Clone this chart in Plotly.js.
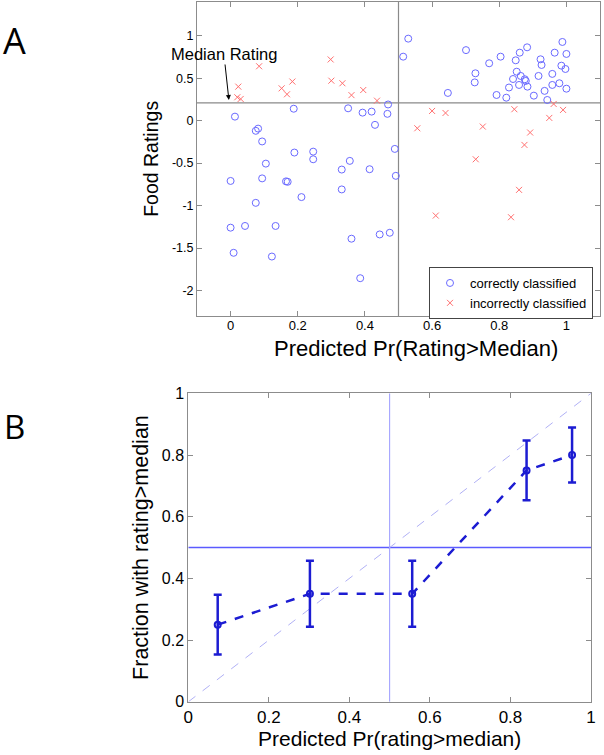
<!DOCTYPE html>
<html>
<head>
<meta charset="utf-8">
<script src="https://cdn.plot.ly/plotly-3.0.1.min.js"></script>
<style>html,body{margin:0;padding:0;background:#fff;}#chart{width:604px;height:755px;}</style>
</head>
<body>
<div id="chart"></div>
<script>
// ---------- Panel A data ----------
const correctX = [
  0.013, 0.188, 0.35, 0.393, 0.42, 0.469, 0.467, 0.43, 0.082, 0.075,
  0.094, 0.19, 0.246, 0.246, 0.489, 0.105, 0.355, 0.331, 0.414, 0.492,
  0.0, 0.094, 0.165, 0.17, 0.331, 0.211, 0.075, 0.0, 0.043, 0.134,
  0.36, 0.444, 0.474, 0.009, 0.123, 0.386,
  0.529, 0.514, 0.701, 0.647, 0.729, 0.727, 0.77, 0.804, 0.792, 0.821,
  0.829, 0.841, 0.852, 0.849, 0.861, 0.883, 0.859, 0.864, 0.876, 0.879,
  0.884, 0.903, 0.917, 0.923, 0.926, 0.935, 0.943, 0.958, 0.958, 0.965,
  0.979, 0.985, 0.988, 0.997, 1.0, 1.0
];
const correctY = [
  0.047, 0.14, 0.145, 0.094, 0.106, 0.19, 0.08, -0.05, -0.094, -0.12,
  -0.245, -0.376, -0.365, -0.455, -0.333, -0.506, -0.474, -0.576, -0.572, -0.65,
  -0.71, -0.68, -0.715, -0.72, -0.81, -0.9, -0.968, -1.26, -1.24, -1.24,
  -1.39, -1.34, -1.32, -1.556, -1.6, -1.855,
  0.965, 0.753, 0.83, 0.326, 0.557, 0.45, 0.675, 0.753, 0.302, 0.27,
  0.39, 0.49, 0.576, 0.71, 0.8, 0.863, 0.42, 0.526, 0.487, 0.467,
  0.4, 0.294, 0.526, 0.722, 0.655, 0.35, 0.243, 0.55, 0.42, 0.8,
  0.44, 0.647, 0.926, 0.608, 0.785, 0.376
];
const wrongX = [
  0.023, 0.02, 0.03, 0.085, 0.152, 0.168, 0.184, 0.298, 0.30, 0.333, 0.36, 0.395, 0.436,
  0.6, 0.64, 0.556, 0.751, 0.845, 0.892, 0.875, 0.949, 0.962, 0.99, 0.73, 0.859, 0.611, 0.835
];
const wrongY = [
  0.40, 0.275, 0.255, 0.64, 0.38, 0.31, 0.46, 0.72, 0.47, 0.44, 0.30, 0.36, 0.235,
  0.114, 0.09, -0.09, -0.07, 0.134, -0.14, -0.286, 0.032, 0.196, 0.126, -0.455, -0.815, -1.118, -1.137
];
const medianRating = 0.21;
const probThreshold = 0.5;
const tickAX = [0, 0.2, 0.4, 0.6, 0.8, 1];
const tickAXText = ['0', '0.2', '0.4', '0.6', '0.8', '1'];
const tickAY = [-2, -1.5, -1, -0.5, 0, 0.5, 1];
const tickAYText = ['-2', '-1.5', '-1', '-0.5', '0', '0.5', '1'];

// ---------- Panel B data ----------
const binX = [0.073, 0.302, 0.556, 0.840, 0.953];
const binFrac = [0.25, 0.35, 0.35, 0.75, 0.80];
const binErr = [0.097, 0.107, 0.107, 0.097, 0.089];
const tickB = [0, 0.2, 0.4, 0.6, 0.8, 1];
const tickBText = ['0', '0.2', '0.4', '0.6', '0.8', '1'];

const W = 604, H = 755;
const font = 'Liberation Sans, Arial, Helvetica, sans-serif';
const frame = '#8c8c8c';

const traces = [
  {x: correctX, y: correctY, xaxis: 'x', yaxis: 'y', type: 'scatter', mode: 'markers',
   name: 'correctly classified',
   marker: {symbol: 'circle-open', size: 7, color: '#6a6aff', line: {width: 1, color: '#6a6aff'}}},
  {x: wrongX, y: wrongY, xaxis: 'x', yaxis: 'y', type: 'scatter', mode: 'markers',
   name: 'incorrectly classified',
   marker: {symbol: 'x-thin', size: 6, color: '#ff7070', line: {width: 1, color: '#ff7070'}}},
  {x: binX, y: binFrac, xaxis: 'x2', yaxis: 'y2', type: 'scatter', mode: 'lines+markers',
   showlegend: false,
   line: {color: '#1c1cd2', width: 2.5, dash: 'dash'},
   marker: {symbol: 'circle-open', size: 6, color: '#1c1cd2', line: {width: 2, color: '#1c1cd2'}},
   error_y: {type: 'data', array: binErr, visible: true, color: '#1c1cd2', thickness: 2.5, width: 4}}
];

const axBase = {showline: true, linecolor: frame, linewidth: 1, mirror: 'allticks', ticks: 'inside',
  ticklen: 5, tickcolor: frame, tickwidth: 1, showgrid: false, zeroline: false, fixedrange: true};

const layout = {
  width: W, height: H, margin: {l: 0, r: 0, t: 0, b: 0},
  paper_bgcolor: '#fff', plot_bgcolor: '#fff',
  font: {family: font, color: '#000'},
  showlegend: true,
  legend: {x: 429 / W, y: 1 - 267 / H, xanchor: 'left', yanchor: 'top',
    bordercolor: '#444', borderwidth: 1, bgcolor: '#fff',
    font: {family: font, size: 13, color: '#000'}, itemwidth: 30, tracegroupgap: 0},
  xaxis: Object.assign({}, axBase, {domain: [197 / W, 600 / W], range: [-0.1, 1.1], anchor: 'y',
    tickmode: 'array', tickvals: tickAX, ticktext: tickAXText, tickfont: {size: 13, family: font},
    ticklabelstandoff: -3}),
  yaxis: Object.assign({}, axBase, {domain: [1 - 316 / H, 1 - 1.7 / H], range: [-2.3, 1.4], anchor: 'x',
    tickmode: 'array', tickvals: tickAY, ticktext: tickAYText, tickfont: {size: 12.5, family: font},
    title: {text: 'Food Ratings', font: {size: 19.5, family: font}, standoff: 8}}),
  xaxis2: Object.assign({}, axBase, {domain: [188.3 / W, 591 / W], range: [0, 1], anchor: 'y2',
    tickmode: 'array', tickvals: tickB, ticktext: tickBText, tickfont: {size: 17, family: font},
    title: {text: 'Predicted Pr(rating>median)', font: {size: 21, family: font}, standoff: 4}}),
  yaxis2: Object.assign({}, axBase, {domain: [1 - 701.8 / H, 1 - 393.3 / H], range: [0, 1], anchor: 'x2',
    tickmode: 'array', tickvals: tickB, ticktext: tickBText, tickfont: {size: 16, family: font},
    title: {text: 'Fraction with rating>median', font: {size: 21.5, family: font}, standoff: 7}}),
  shapes: [
    {type: 'line', xref: 'x', yref: 'y', x0: -0.1, x1: 1.1, y0: medianRating, y1: medianRating,
     line: {color: '#8a8a8a', width: 1.2}, layer: 'below'},
    {type: 'line', xref: 'x', yref: 'y', x0: probThreshold, x1: probThreshold, y0: -2.3, y1: 1.4,
     line: {color: '#8a8a8a', width: 1.2}, layer: 'below'},
    {type: 'line', xref: 'x2', yref: 'y2', x0: 0, x1: 1, y0: probThreshold, y1: probThreshold,
     line: {color: '#5b5bff', width: 1.6}, layer: 'below'},
    {type: 'line', xref: 'x2', yref: 'y2', x0: probThreshold, x1: probThreshold, y0: 0, y1: 1,
     line: {color: '#9a9aff', width: 1}, layer: 'below'},
    {type: 'line', xref: 'x2', yref: 'y2', x0: 0, x1: 1, y0: 0, y1: 1,
     line: {color: '#b0b0f5', width: 1, dash: 'dash'}, layer: 'below'}
  ],
  annotations: [
    {text: 'A', xref: 'paper', yref: 'paper', x: 14.5 / W, y: 1 - 40.5 / H, xanchor: 'center', yanchor: 'middle',
     showarrow: false, font: {family: 'Open Sans, sans-serif', size: 36, color: '#000'}},
    {text: 'B', xref: 'paper', yref: 'paper', x: 15 / W, y: 1 - 426.5 / H, xanchor: 'center', yanchor: 'middle',
     showarrow: false, font: {family: 'Open Sans, sans-serif', size: 33, color: '#000'}},
    {text: 'Median Rating', xref: 'x', yref: 'y', x: -0.005, y: 0.243, ax: -5, ay: -46,
     showarrow: true, arrowhead: 2, arrowsize: 1, arrowwidth: 1, arrowcolor: '#000', standoff: 0,
     font: {family: font, size: 16.5, color: '#000'}},
    {text: 'Predicted Pr(Rating>Median)', xref: 'paper', yref: 'paper', x: 415.5 / W, y: 1 - 348.5 / H,
     xanchor: 'center', yanchor: 'middle', showarrow: false, borderpad: 0,
     font: {family: font, size: 22, color: '#000'}}
  ]
};

Plotly.newPlot('chart', traces, layout, {displayModeBar: false, staticPlot: true});
</script>
</body>
</html>
